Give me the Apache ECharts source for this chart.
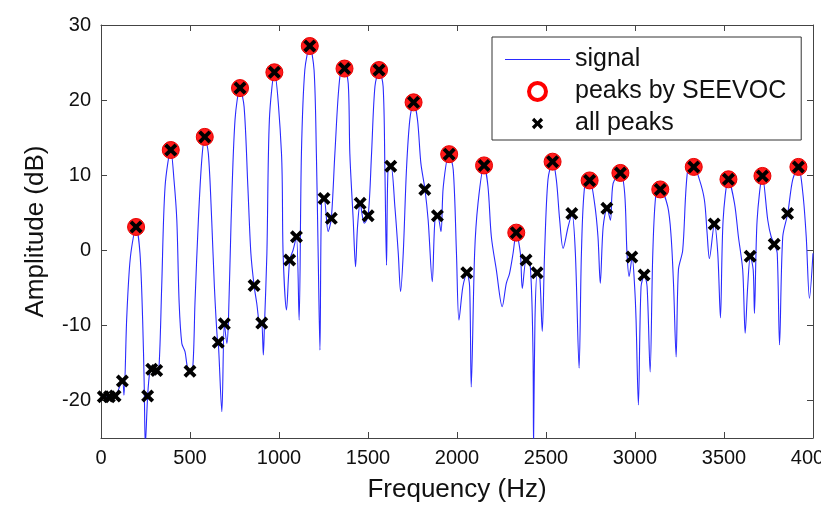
<!DOCTYPE html>
<html>
<head>
<meta charset="utf-8">
<script src="https://cdn.jsdelivr.net/npm/echarts@6/dist/echarts.min.js"></script>
<style>
  html, body { margin: 0; padding: 0; background: #fff; }
  #chart { width: 821px; height: 506px; }
</style>
</head>
<body>
<div id="chart"></div>
<script>
// spectrum
const signalHz = [0,45,79,120,129,144,159,173,197,219,234,243,249,262,275,285,298,313,326,341,360,392,410,426,439,454,472,485,500,516,528,547,566,583,603,622,637,654,659,679,693,707,716,731,753,781,804,825,842,860,875,894,903,912,918,932,946,974,1014,1023,1042,1060,1079,1098,1113,1126,1145,1173,1197,1210,1220,1230,1239,1253,1276,1294,1314,1342,1368,1389,1398,1417,1430,1441,1456,1479,1501,1520,1539,1563,1585,1595,1604,1613,1629,1651,1670,1683,1698,1716,1735,1756,1778,1797,1820,1838,1861,1876,1891,1910,1923,1956,1979,1997,2011,2033,2056,2071,2080,2099,2118,2152,2174,2193,2221,2254,2277,2295,2315,2333,2356,2367,2389,2412,2427,2430,2438,2451,2464,2479,2492,2511,2537,2558,2577,2596,2624,2646,2665,2686,2699,2717,2745,2773,2792,2805,2821,2843,2862,2877,2918,2942,2955,2967,2984,2998,3006,3019,3034,3053,3068,3085,3100,3118,3142,3184,3203,3217,3231,3244,3268,3296,3330,3362,3390,3405,3418,3446,3465,3480,3495,3525,3559,3581,3605,3619,3633,3648,3664,3671,3686,3716,3746,3765,3784,3799,3812,3830,3858,3886,3918,3943,3962,3980,4000];
const signalDb = [-19.5,-19.5,-19.4,-17.4,-19.3,-9.3,-2.6,0.5,3.1,-0.4,-9.3,-18.2,-26,-19.4,-16,-15.85,-16.6,-16.0,-15.5,-4.85,8.5,13.35,9.4,4.0,-7.0,-12.4,-13.5,-15.5,-16.1,-15.5,-7.0,4.0,12.0,15.1,12.9,4.0,-4.85,-12.0,-12.25,-21.5,-9.8,-12.4,-9.3,4.0,17.4,21.6,19.1,8.5,-0.4,-4.7,-7.05,-10.2,-9.7,-13.95,-10.2,-0.4,17.4,23.7,12.9,-0.4,-7.95,-1.3,0,1.8,-9.3,12.9,24.0,27.2,24.0,12.9,-0.4,-13.3,6.7,6.9,2.5,4.25,12.9,23.1,24.2,22.2,12.9,4.0,-2.2,3.1,6.25,3.6,4.6,12.9,21.8,24.0,21.8,10.7,-2.0,11.1,11.2,5.8,-0.4,-5.5,-0.4,10.7,17.4,19.7,17.4,11.6,8.1,4.0,-4.2,4.0,4.6,2.5,8.5,12.8,10.7,-0.4,-9.3,-4.85,-3.0,-4.85,-18.2,-0.4,6.25,11.3,8.5,1.8,-2.6,-7.5,-4.4,-3.1,-0.4,2.35,-0.4,-5.1,-1.3,-2.2,-13.7,-26,-9.3,-3.0,-3.1,-10.8,-0.4,9.4,11.8,9.4,4.0,0.25,3.1,4.9,-0.4,-15.7,-0.4,8.5,9.3,6.25,1.8,-4.4,3.1,5.6,4.0,8.9,10.3,7.6,-0.4,-3.5,-0.9,-4.85,-9.3,-20.6,-4.85,-3.3,-4.85,-16.2,-0.4,7.6,8.1,5.8,1.8,-4.85,-14.2,-2.6,0,10.7,11.1,9.4,6.7,2.3,-1.1,3.5,-0.4,-9.0,4.0,9.45,6.25,1.8,-2.6,-11.05,-4.85,-0.8,-2.6,-8.4,4.0,9.9,4.0,1.8,0.8,-0.4,-12.6,1.8,4.9,9.4,11.1,7.6,1.8,-6.4,-0.4];

// peaks picked by SEEVOC
const seevocHz = [197,392,583,781,974,1173,1368,1562,1756,1956,2152,2333,2537,2745,2918,3142,3330,3525,3716,3918];
const seevocDb = [3.1,13.35,15.1,21.6,23.7,27.2,24.2,24.0,19.7,12.8,11.3,2.35,11.8,9.3,10.3,8.1,11.1,9.45,9.9,11.1];

// the remaining local maxima
const otherHz = [13,47,79,120,262,285,313,500,659,693,860,903,1060,1098,1253,1294,1456,1501,1628,1819,1890,2055,2388,2450,2645,2842,2982,3051,3445,3647,3782,3857];
const otherDb = [-19.5,-19.5,-19.4,-17.4,-19.4,-15.85,-16.0,-16.1,-12.25,-9.8,-4.7,-9.7,-1.3,1.8,6.9,4.25,6.25,4.6,11.2,8.1,4.6,-3.0,-1.3,-3.0,4.9,5.6,-0.9,-3.3,3.5,-0.8,0.8,4.9];

const yTicks = [-20, -10, 0, 10, 20, 30];

const pairs = (xs, ys) => xs.map((x, i) => [x, ys[i]]);
const allPeaks = pairs(seevocHz, seevocDb).concat(pairs(otherHz, otherDb));

const cross = 'path://M0,2.5 L2.5,0 L6,3.5 L9.5,0 L12,2.5 L8.5,6 L12,9.5 L9.5,12 L6,8.5 L2.5,12 L0,9.5 L3.5,6 Z';
// same cross with empty margin so it looks smaller in the legend
const crossSmall = 'path://M-3,-3 M15,15 M0,2.5 L2.5,0 L6,3.5 L9.5,0 L12,2.5 L8.5,6 L12,9.5 L9.5,12 L6,8.5 L2.5,12 L0,9.5 L3.5,6 Z';
const lineIcon = 'path://M0,0 H65 V1 H0 Z';

const font = 'Liberation Sans, Arial, sans-serif';
const axisColor = '#444';
const blue = '#2a2aff';

const chart = echarts.init(document.getElementById('chart'));

const option = {
  animation: false,
  backgroundColor: '#fff',
  grid: { left: 101, right: 8, top: 25, bottom: 68, outerBoundsMode: 'none' },
  legend: {
    orient: 'vertical',
    left: 492,
    top: 37,
    padding: [10, 15, 4, 13],
    itemGap: 7,
    itemWidth: 65,
    itemHeight: 17,
    borderColor: '#333',
    borderWidth: 1,
    backgroundColor: '#fff',
    textStyle: { fontFamily: font, fontSize: 25, color: '#111' },
    data: [
      { name: 'signal', icon: lineIcon, itemStyle: { color: blue } },
      { name: 'peaks by SEEVOC', icon: 'circle',
        itemStyle: { color: '#fff', borderColor: '#ff0000', borderWidth: 4 } },
      { name: 'all peaks', icon: crossSmall }
    ]
  },
  xAxis: [
    {
      type: 'value', min: 0, max: 4000, interval: 500,
      name: 'Frequency (Hz)', nameLocation: 'middle', nameGap: 39,
      nameTextStyle: { fontFamily: font, fontSize: 26, color: '#111' },
      axisLine: { show: true, onZero: false, lineStyle: { color: axisColor } },
      axisTick: { inside: true, length: 6, lineStyle: { color: axisColor } },
      axisLabel: { fontFamily: font, fontSize: 20, color: '#111', margin: 10,
        showMaxLabel: true, formatter: v => String(v) },
      splitLine: { show: false }
    },
    {
      type: 'value', min: 0, max: 4000, interval: 500, position: 'top',
      axisLine: { show: true, onZero: false, lineStyle: { color: axisColor } },
      axisTick: { inside: true, length: 6, lineStyle: { color: axisColor } },
      axisLabel: { show: false },
      splitLine: { show: false }
    }
  ],
  yAxis: [
    {
      type: 'value', min: -25, max: 30,
      name: 'Amplitude (dB)', nameLocation: 'middle', nameGap: 52,
      nameTextStyle: { fontFamily: font, fontSize: 26, color: '#111' },
      axisLine: { show: true, onZero: false, lineStyle: { color: axisColor } },
      axisTick: { inside: true, length: 6, customValues: yTicks, lineStyle: { color: axisColor } },
      axisLabel: { fontFamily: font, fontSize: 20, color: '#111', margin: 10,
        customValues: yTicks, formatter: v => String(v) },
      splitLine: { show: false }
    },
    {
      type: 'value', min: -25, max: 30, position: 'right',
      axisLine: { show: true, onZero: false, lineStyle: { color: axisColor } },
      axisTick: { inside: true, length: 6, customValues: yTicks, lineStyle: { color: axisColor } },
      axisLabel: { show: false },
      splitLine: { show: false }
    }
  ],
  series: [
    {
      name: 'signal',
      type: 'line',
      data: pairs(signalHz, signalDb),
      showSymbol: false,
      symbol: 'none',
      smooth: 0.3,
      clip: true,
      lineStyle: { color: blue, width: 1.1 },
      itemStyle: { color: blue },
      z: 2
    },
    {
      name: 'peaks by SEEVOC',
      type: 'scatter',
      data: pairs(seevocHz, seevocDb),
      symbol: 'circle',
      symbolSize: 17,
      itemStyle: { color: '#ff1a1a', borderColor: '#e80000', borderWidth: 1, opacity: 1 },
      z: 3
    },
    {
      name: 'all peaks',
      type: 'scatter',
      data: allPeaks,
      symbol: cross,
      symbolSize: 13,
      itemStyle: { color: '#000', opacity: 1 },
      z: 4
    }
  ]
};

chart.setOption(option);
</script>
</body>
</html>
